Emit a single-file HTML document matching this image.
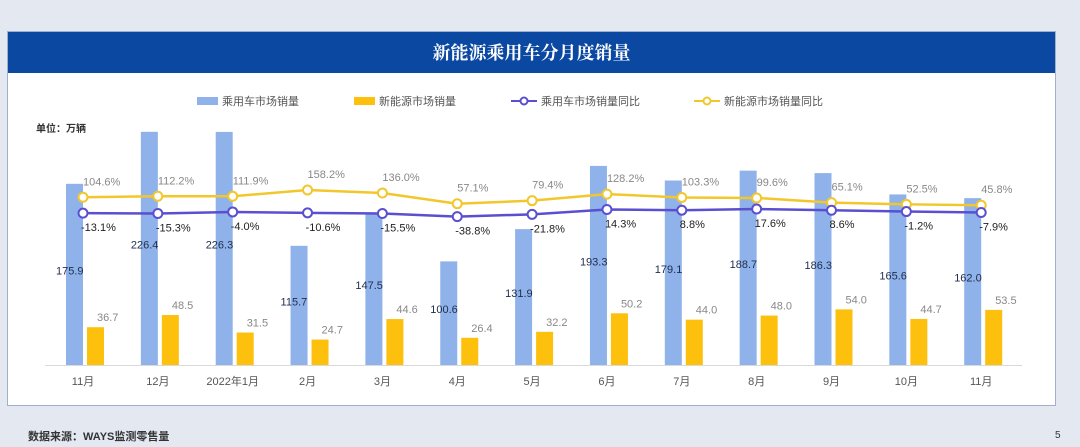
<!DOCTYPE html>
<html><head><meta charset="utf-8"><style>
body{margin:0;width:1080px;height:447px;background:#e3e8f1;font-family:"Liberation Sans","Noto Sans CJK SC",sans-serif;overflow:hidden;position:relative}
#frame{position:absolute;left:7px;top:31px;width:1047px;height:373px;background:#fff;border:1px solid #9fb0cc}
#title{position:absolute;left:0;top:0;width:100%;height:41px;background:#0b48a2;color:#fff;font-family:"Noto Serif CJK SC",serif;font-weight:bold;font-size:18px;text-align:center;line-height:41px}
.ft{position:absolute;font-size:11px;color:#333;font-weight:bold}
</style></head><body>
<div id="frame"><div id="title">新能源乘用车分月度销量</div></div>
<svg id="chart" width="1080" height="447" style="position:absolute;left:0;top:0"></svg>
<div class="ft" style="left:28px;top:428px">数据来源：WAYS监测零售量</div>
<div class="ft" style="left:1055px;top:430px;font-weight:normal;font-size:10px">5</div>
<script>
const categories=["11月","12月","2022年1月","2月","3月","4月","5月","6月","7月","8月","9月","10月","11月"];
const totalSales=[175.9,226.4,226.3,115.7,147.5,100.6,131.9,193.3,179.1,188.7,186.3,165.6,162.0];
const nevSales=[36.7,48.5,31.5,24.7,44.6,26.4,32.2,50.2,44.0,48.0,54.0,44.7,53.5];
const totalYoY=[-13.1,-15.3,-4.0,-10.6,-15.5,-38.8,-21.8,14.3,8.8,17.6,8.6,-1.2,-7.9];
const nevYoY=[104.6,112.2,111.9,158.2,136.0,57.1,79.4,128.2,103.3,99.6,65.1,52.5,45.8];
const NS="http://www.w3.org/2000/svg";
const svg=document.getElementById('chart');
function mk(t,a,txt){const e=document.createElementNS(NS,t);for(const k in a)e.setAttribute(k,a[k]);if(txt!=null)e.textContent=txt;svg.appendChild(e);return e;}
const base=365;
const xC=i=>83+i*74.85;
const yBar=v=>base-v*1.03;
const yPct=v=>211.4-v*0.135;
// axis
let ax=mk('line',{x1:45,x2:1022,y1:base+0.5,y2:base+0.5,stroke:'#d9d9d9','stroke-width':1});

categories.forEach((c,i)=>{
 const b=mk('rect',{x:xC(i)-17,y:yBar(totalSales[i]),width:17,height:base-yBar(totalSales[i]),fill:'#8fb2ea'});
 
 const g=mk('rect',{x:xC(i)+4,y:yBar(nevSales[i]),width:17,height:base-yBar(nevSales[i]),fill:'#fdc00d'});
 
 const t=mk('text',{x:xC(i),y:385,'font-size':11,fill:'#555','text-anchor':'middle'},c);
 
 const l1=mk('text',{x:xC(i)-27,y:(yBar(totalSales[i])+base)/2,'font-size':11,fill:'#1f2d4d','text-anchor':'start'},totalSales[i].toFixed(1));
 
 const l2=mk('text',{x:xC(i)+14,y:yBar(nevSales[i])-6,'font-size':11,fill:'#888','text-anchor':'start'},nevSales[i].toFixed(1));
 
});
function line(vals,color,name){
 const p=mk('polyline',{points:vals.map((v,i)=>xC(i)+','+yPct(v)).join(' '),fill:'none',stroke:color,'stroke-width':2.5});
 
 vals.forEach((v,i)=>{const c=mk('circle',{cx:xC(i),cy:yPct(v),r:4.5,fill:'#fff',stroke:color,'stroke-width':2});
 });
}
line(nevYoY,'#f2c72c','nev-yoy');
line(totalYoY,'#5a4fd0','total-yoy');
nevYoY.forEach((v,i)=>{const t=mk('text',{x:xC(i),y:yPct(v)-12,'font-size':11,fill:'#888'},v.toFixed(1)+'%');
 });
totalYoY.forEach((v,i)=>{const t=mk('text',{x:xC(i)-2,y:yPct(v)+18,'font-size':11,fill:'#222'},v.toFixed(1)+'%');
 });
// legend
const leg=[['rect','#8fb2ea','乘用车市场销量',197],['rect','#fdc00d','新能源市场销量',354],['line','#5a4fd0','乘用车市场销量同比',511],['line','#f2c72c','新能源市场销量同比',694]];
leg.forEach(l=>{
 if(l[0]=='rect'){const r=mk('rect',{x:l[3],y:97,width:21,height:8,fill:l[1]});}
 else{const a=mk('line',{x1:l[3],x2:l[3]+26,y1:101,y2:101,stroke:l[1],'stroke-width':2});
 const c=mk('circle',{cx:l[3]+13,cy:101,r:3.5,fill:'#fff',stroke:l[1],'stroke-width':2});}
 const t=mk('text',{x:l[3]+(l[0]=='rect'?25:30),y:105,'font-size':11,fill:'#555'},l[2]);
 
});
const u=mk('text',{x:36,y:132,'font-size':10,fill:'#333','font-weight':'bold'},'单位：万辆');

</script>
</body></html>
